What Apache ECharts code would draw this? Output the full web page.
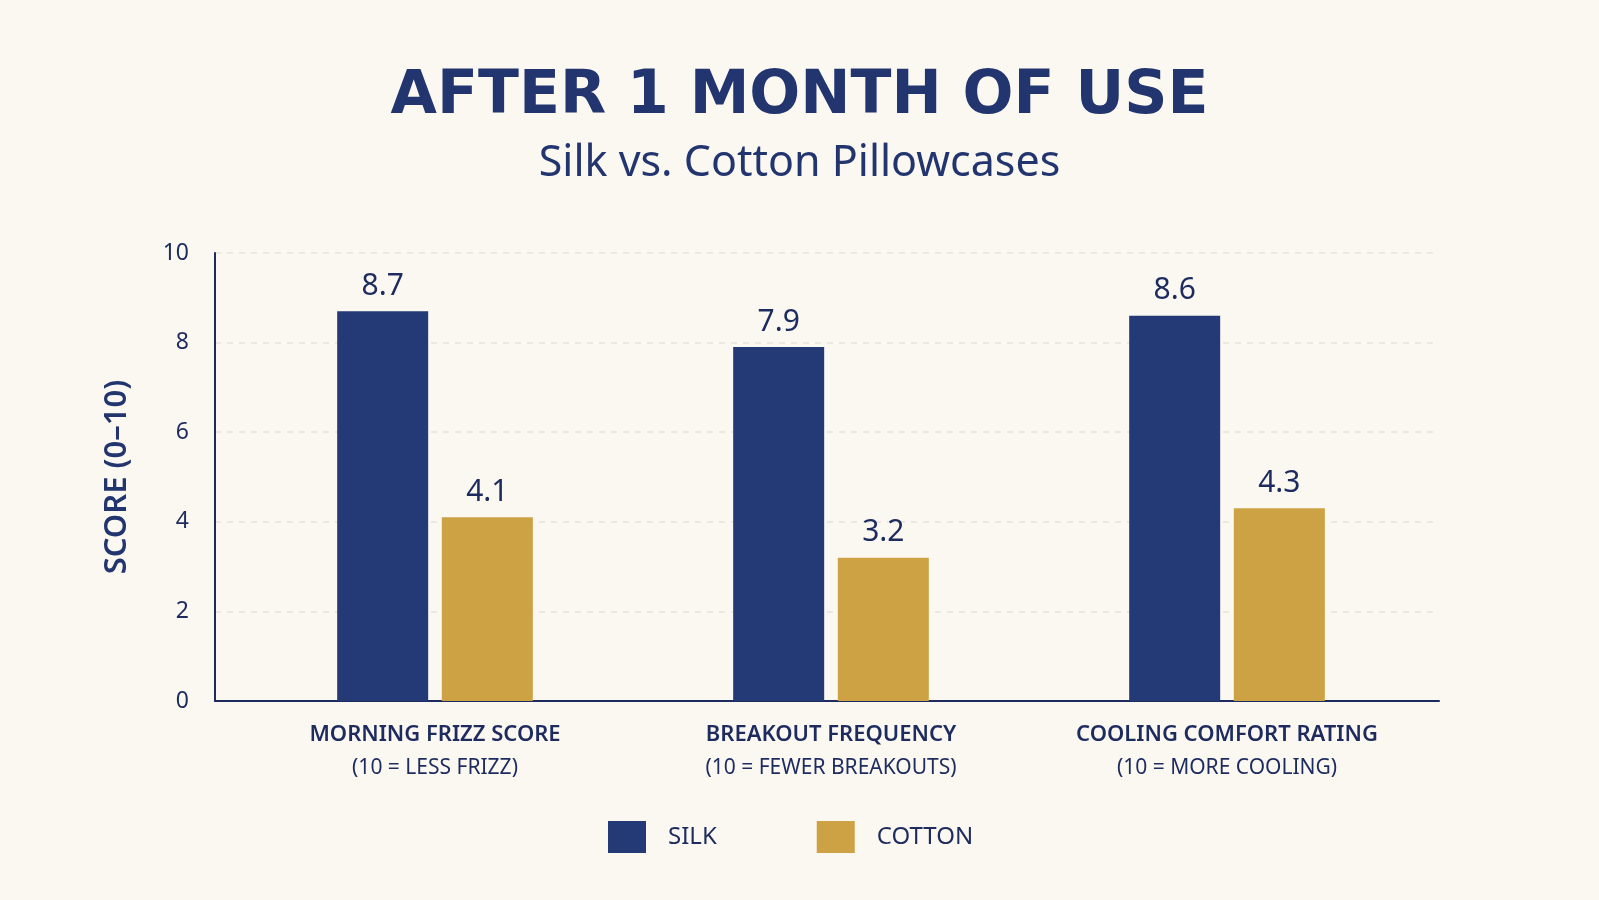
<!DOCTYPE html>
<html>
<head>
<meta charset="utf-8">
<title>After 1 Month of Use</title>
<script src="https://cdn.jsdelivr.net/npm/echarts@6/dist/echarts.min.js"></script>
<style>
  html, body { margin: 0; padding: 0; background: #fbf8f2; }
  #chart { width: 1599px; height: 900px; }
</style>
</head>
<body>
<div id="chart"></div>
<script>
  var categories = ['MORNING FRIZZ SCORE', 'BREAKOUT FREQUENCY', 'COOLING COMFORT RATING'];
  var notes = ['(10 = LESS FRIZZ)', '(10 = FEWER BREAKOUTS)', '(10 = MORE COOLING)'];
  var silk = [8.7, 7.9, 8.6];
  var cotton = [4.1, 3.2, 4.3];
  var seriesNames = ['SILK', 'COTTON'];

  var navy = '#233a76';
  var gold = '#cca244';
  var ink = '#1d2b5e';

  var myChart = echarts.init(document.getElementById('chart'));

  var labelOpt = {
    show: true,
    position: 'top',
    distance: 10,
    color: ink,
    fontSize: 30,
    fontFamily: 'Noto Sans'
  };

  var option = {
    backgroundColor: '#fbf8f2',
    title: [
      {
        text: 'AFTER 1 MONTH OF USE',
        left: 'center',
        top: 62,
        textStyle: { color: '#22356e', fontSize: 60, fontWeight: 'bold', fontFamily: 'DejaVu Sans' }
      },
      {
        text: 'Silk vs. Cotton Pillowcases',
        left: 'center',
        top: 137,
        textStyle: { color: '#22356e', fontSize: 43, fontWeight: 'normal', fontFamily: 'Noto Sans' }
      }
    ],
    legend: {
      data: seriesNames,
      left: 603,
      top: 816,
      itemWidth: 38,
      itemHeight: 32,
      itemGap: 100,
      icon: 'rect',
      textStyle: { color: ink, fontSize: 24, fontFamily: 'Noto Sans', padding: [0, 0, 0, 17] }
    },
    grid: [
      { left: 215, right: 160, top: 253, bottom: 199 },
      { left: 237, right: 174, top: 253, bottom: 199 }
    ],
    xAxis: [
      {
        type: 'category',
        gridIndex: 0,
        data: categories,
        axisLine: { lineStyle: { color: ink, width: 2 } },
        axisTick: { show: false },
        axisLabel: { show: false }
      },
      {
        type: 'category',
        gridIndex: 1,
        data: categories,
        axisLine: { show: false },
        axisTick: { show: false },
        axisLabel: {
          margin: 18,
          formatter: function (v, i) {
            return '{a|' + v + '}\n{b|' + notes[i] + '}';
          },
          rich: {
            a: { color: ink, fontSize: 22, fontWeight: 600, fontFamily: 'Noto Sans', lineHeight: 32 },
            b: { color: ink, fontSize: 21, fontFamily: 'Noto Sans', lineHeight: 34 }
          }
        }
      }
    ],
    yAxis: [
      {
        type: 'value',
        gridIndex: 0,
        min: 0,
        max: 10,
        interval: 2,
        name: 'SCORE (0–10)',
        nameLocation: 'middle',
        nameGap: 82,
        nameTextStyle: { color: '#22356e', fontSize: 31, fontWeight: 600, fontFamily: 'Noto Sans' },
        axisLine: { show: true, lineStyle: { color: ink, width: 2 } },
        axisTick: { show: false },
        axisLabel: { color: ink, fontSize: 23, margin: 26, fontFamily: 'Noto Sans' },
        splitLine: { lineStyle: { color: '#e6e2da', type: [6, 6], width: 1.5 } }
      },
      {
        type: 'value',
        gridIndex: 1,
        min: 0,
        max: 10,
        interval: 2,
        show: false,
        splitLine: { show: false }
      }
    ],
    series: [
      {
        name: seriesNames[0],
        type: 'bar',
        xAxisIndex: 1,
        yAxisIndex: 1,
        barWidth: 91,
        barGap: '15%',
        itemStyle: { color: navy },
        label: labelOpt,
        data: silk
      },
      {
        name: seriesNames[1],
        type: 'bar',
        xAxisIndex: 1,
        yAxisIndex: 1,
        barWidth: 91,
        barGap: '15%',
        itemStyle: { color: gold },
        label: labelOpt,
        data: cotton
      }
    ]
  };

  myChart.setOption(option);
</script>
</body>
</html>
